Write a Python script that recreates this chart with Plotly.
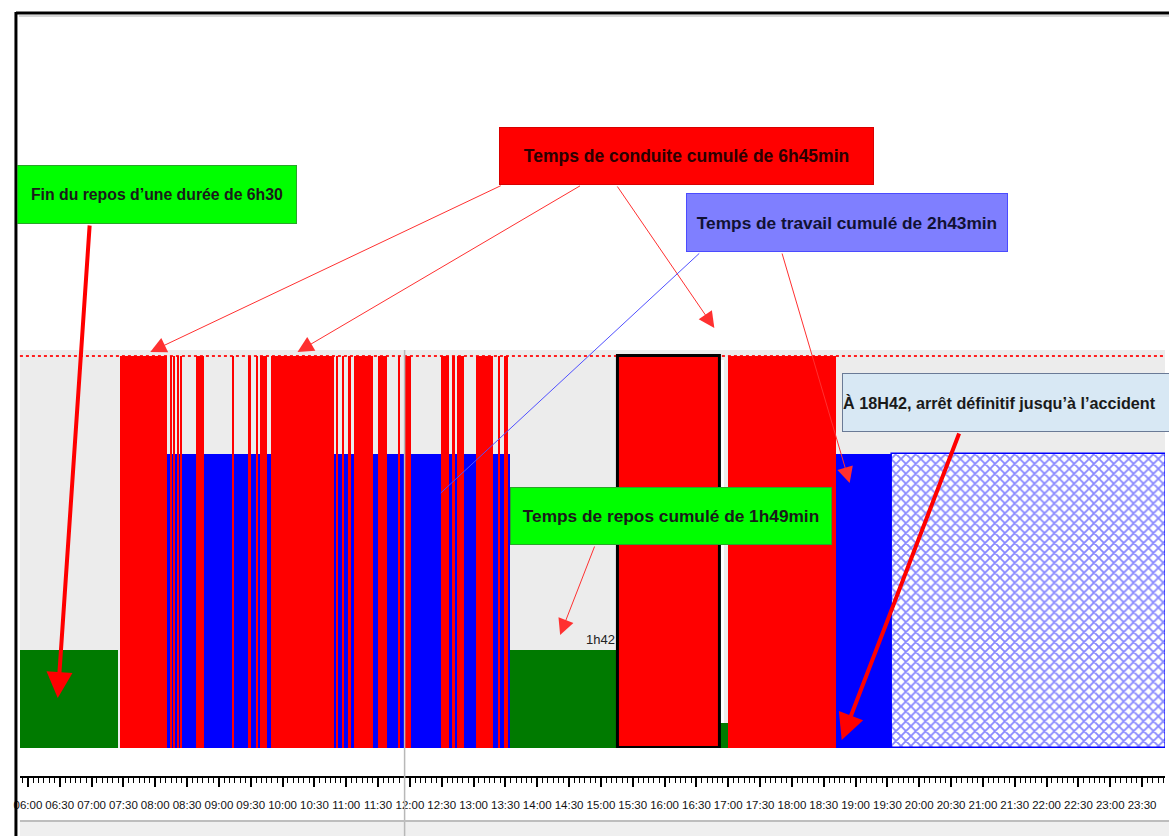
import plotly.graph_objects as go

W, H = 1169, 836

# ---------------- data ----------------
seg_state = ["Repos", "Conduite", "Travail", "Repos", "Conduite", "Repos",
             "Conduite", "Travail", "Disponibilité"]
seg_start = ["05:52", "07:27", "08:11", "13:34", "15:16", "16:52",
             "17:00", "18:41", "19:34"]
seg_end = ["07:25", "08:11", "13:34", "15:16", "16:52", "17:00",
           "18:41", "19:34", "23:52"]
seg_level = [1, 4, 3, 1, 4, 0.25, 4, 3, 3]

# short driving periods inside the working block 08:11 - 13:34
drive_start = ["08:14", "08:17", "08:21", "08:24", "08:38", "09:12", "09:27", "09:35",
               "09:39", "09:49", "10:51", "10:56", "11:02", "11:07", "11:30", "11:49",
               "11:55", "12:29", "12:40", "12:44", "13:02", "13:23", "13:29"]
drive_end = ["08:15", "08:18", "08:22", "08:25", "08:46", "09:14", "09:30", "09:37",
             "09:45", "10:48", "10:52", "10:57", "11:04", "11:25", "11:38", "11:51",
             "12:01", "12:37", "12:42", "12:51", "13:18", "13:25", "13:32"]

# card withdrawn / unknown short period
gap_start, gap_end, gap_low, gap_high = "16:52", "16:56", 0.25, 3.96

highlight_start = "15:16"   # driving period outlined in black
cursor_time = "11:55"
max_level = 4

tick_labels = ["06:00", "06:30", "07:00", "07:30", "08:00", "08:30", "09:00", "09:30",
               "10:00", "10:30", "11:00", "11:30", "12:00", "12:30", "13:00", "13:30",
               "14:00", "14:30", "15:00", "15:30", "16:00", "16:30", "17:00", "17:30",
               "18:00", "18:30", "19:00", "19:30", "20:00", "20:30", "21:00", "21:30",
               "22:00", "22:30", "23:00", "23:30"]


def hours(s):
    h, m = s.split(":")
    return int(h) + int(m) / 60.0


def P(x, y):
    return x / W, 1 - y / H


def bar_args(starts, ends, levels):
    s = [hours(a) for a in starts]
    e = [hours(b) for b in ends]
    return dict(x=[(a + b) / 2 for a, b in zip(s, e)],
                width=[b - a for a, b in zip(s, e)],
                y=list(levels))


fig = go.Figure()

colors = {"Repos": "#007a00", "Travail": "#0000ff", "Conduite": "#ff0000"}

for state in ["Repos", "Travail"]:
    idx = [i for i, s in enumerate(seg_state) if s == state]
    fig.add_trace(go.Bar(
        **bar_args([seg_start[i] for i in idx], [seg_end[i] for i in idx],
                   [seg_level[i] for i in idx]),
        marker=dict(color=colors[state], line=dict(width=0)), name=state))

idx = [i for i, s in enumerate(seg_state) if s == "Disponibilité"]
fig.add_trace(go.Bar(
    **bar_args([seg_start[i] for i in idx], [seg_end[i] for i in idx],
               [seg_level[i] for i in idx]),
    marker=dict(color="white", line=dict(color="#0000ff", width=1.5),
                pattern=dict(shape="x", fgcolor="#1010ff", bgcolor="white",
                             size=7, solidity=0.45)),
    name="Disponibilité"))

g = bar_args([gap_start], [gap_end], [gap_high - gap_low])
fig.add_trace(go.Bar(**g, base=[gap_low], marker=dict(color="white", line=dict(width=0)),
                     name="Inconnu"))

fig.add_trace(go.Bar(**bar_args(drive_start, drive_end, [max_level] * len(drive_start)),
                     marker=dict(color="#ff0000", line=dict(width=0)), name="Conduite"))

idx = [i for i, s in enumerate(seg_state) if s == "Conduite" and seg_start[i] != highlight_start]
fig.add_trace(go.Bar(
    **bar_args([seg_start[i] for i in idx], [seg_end[i] for i in idx],
               [seg_level[i] for i in idx]),
    marker=dict(color="#ff0000", line=dict(width=0)), name="Conduite"))
idx = [i for i, s in enumerate(seg_state) if seg_start[i] == highlight_start]
fig.add_trace(go.Bar(
    **bar_args([seg_start[i] for i in idx], [seg_end[i] for i in idx],
               [seg_level[i] for i in idx]),
    marker=dict(color="#ff0000", line=dict(color="black", width=3)), name="Conduite"))

tick_vals = [hours(t) for t in tick_labels]

fig.update_layout(
    width=W, height=H, autosize=False,
    margin=dict(l=0, r=0, t=0, b=0),
    paper_bgcolor="white", plot_bgcolor="#ececec",
    barmode="overlay", bargap=0, showlegend=False,
    xaxis=dict(domain=[14 / W, 1165 / W], range=[5.875, 23.86],
               anchor="free", position=(H - 777) / H,
               showgrid=False, zeroline=False,
               showline=True, linecolor="black", linewidth=2,
               tickvals=tick_vals, ticktext=tick_labels, tickangle=0,
               ticks="outside", ticklen=9, tickwidth=2, tickcolor="black",
               ticklabelstandoff=8,
               minor=dict(ticks="outside", ticklen=5, tickwidth=1, tickcolor="black",
                          dtick=5 / 60, showgrid=False),
               tickfont=dict(family="Liberation Sans, Arial, sans-serif",
                             size=11.5, color="#111")),
    yaxis=dict(domain=[(H - 748) / H, (H - 350) / H], range=[0, 4.06],
               visible=False, fixedrange=True),
)

shapes = []
shapes.append(dict(type="line", xref="x domain", yref="y", x0=0, x1=1, y0=max_level, y1=max_level,
                   line=dict(color="#ff2020", width=2, dash="dot"), layer="below"))
cx = hours(cursor_time)
shapes.append(dict(type="line", xref="x", yref="paper", x0=cx, x1=cx, y0=0, y1=(H - 350) / H,
                   line=dict(color="#b8b8b8", width=1.5)))
shapes.append(dict(type="rect", xref="paper", yref="paper", x0=14 / W, x1=1.0,
                   y0=0, y1=(H - 822) / H, fillcolor="#efefef", line=dict(width=0), layer="below"))
shapes.append(dict(type="line", xref="paper", yref="paper", x0=14 / W, x1=1.0,
                   y0=(H - 821) / H, y1=(H - 821) / H, line=dict(color="#bdbdbd", width=2)))
shapes.append(dict(type="line", xref="paper", yref="paper", x0=10 / W, x1=1.0,
                   y0=(H - 13) / H, y1=(H - 13) / H, line=dict(color="black", width=3)))
shapes.append(dict(type="line", xref="paper", yref="paper", x0=10 / W, x1=10 / W,
                   y0=0, y1=(H - 12) / H, line=dict(color="black", width=3)))
shapes.append(dict(type="line", xref="paper", yref="paper", x0=13 / W, x1=1.0,
                   y0=(H - 16) / H, y1=(H - 16) / H, line=dict(color="#c8c8c8", width=1.5)))
fig.update_layout(shapes=shapes)

ann = []


def box(text, x0, x1, y0, y1, bg, border, color, size, align="center"):
    cx, cy = P((x0 + x1) / 2, (y0 + y1) / 2)
    return dict(text=text, xref="paper", yref="paper", x=cx, y=cy,
                xanchor="center", yanchor="middle", showarrow=False,
                width=x1 - x0 - 2, height=y1 - y0 - 2, borderpad=0, borderwidth=1,
                bgcolor=bg, bordercolor=border, align=align,
                font=dict(color=color, family="Liberation Sans, Arial, sans-serif",
                          size=size, weight="bold"))


def arrow(tail, head, color, width, size, headstyle=2):
    hx, hy = P(*head)
    return dict(text="", xref="paper", yref="paper", x=hx, y=hy,
                axref="pixel", ayref="pixel",
                ax=tail[0] - head[0], ay=tail[1] - head[1],
                showarrow=True, arrowhead=headstyle, arrowsize=size,
                arrowwidth=width, arrowcolor=color, standoff=0)


ann.append(arrow((84, 224), (52, 698), "#ff0000", 4, 1.3))
ann.append(arrow((497, 185), (145, 352), "#ff3030", 1, 3.2))
ann.append(arrow((577, 185), (293, 352), "#ff3030", 1, 3.2))
ann.append(arrow((614, 185), (712, 328), "#ff3030", 1, 3.2))
ann.append(arrow((697, 252), (437, 493), "#5050ff", 1, 1, headstyle=0))
ann.append(arrow((780, 252), (848, 483), "#ff3030", 1, 3.2))
ann.append(arrow((592, 545), (557, 635), "#ff3030", 1, 3.2))
ann.append(arrow((958, 432), (840, 740), "#ff0000", 4, 1.3))

ann.append(box("Fin du repos d\u2019une durée de 6h30", 12, 292, 165, 224,
               "#00ff00", "#2aa52a", "#1a1a1a", 15.8))
ann.append(box("Temps de conduite cumulé de 6h45min", 497, 872, 127, 185,
               "#ff0000", "#d80000", "#2a0000", 17.5))
ann.append(box("Temps de travail cumulé de 2h43min", 684, 1006, 193, 252,
               "#7f7fff", "#4b4bff", "#111133", 17.3))
ann.append(box("Temps de repos cumulé de 1h49min", 507, 829, 487, 545,
               "#00ff00", "#2aa52a", "#1a1a1a", 17.3))
ann.append(box("À 18H42, arrêt définitif jusqu\u2019à l\u2019accident", 841, 1180, 373, 432,
               "#d8e8f4", "#6a7a96", "#1a1a1a", 16.2, align="left"))

lx, ly = P(614, 649)
ann.append(dict(text="1h42", xref="paper", yref="paper", x=lx, y=ly,
                xanchor="right", yanchor="bottom", showarrow=False,
                font=dict(family="Liberation Sans, Arial, sans-serif",
                          size=13, color="#222")))

fig.update_layout(annotations=ann)

fig.write_html("out.html",
               config={"displayModeBar": False},
               post_script="document.body.style.margin='0';"
                           "document.body.style.overflow='hidden';")
